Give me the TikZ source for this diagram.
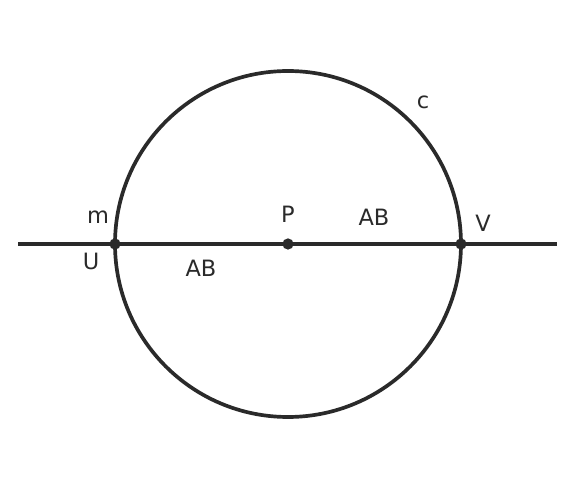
\documentclass[tikz,border=0pt]{standalone}
\usepackage{fontspec}
\setmainfont{DejaVu Sans}
\usepackage{tikz}
\definecolor{ink}{HTML}{2A2A2A}
\tikzset{
  lbl/.style={text=ink,font=\fontsize{12.8}{14}\selectfont,inner sep=0pt},
  pt/.style={circle,fill=ink,inner sep=0pt,minimum size=6.4pt}
}
\begin{document}
\begin{tikzpicture}[x=0.02cm,y=-0.02cm]
      \useasboundingbox (0,0) rectangle (576,489);
      \coordinate (m1) at (18,244);
      \coordinate (m2) at (557,244);
      \draw[ink,line width=2.1pt] (288,244) circle [radius=173];
      \draw[ink,line width=2.1pt] (m1) -- (m2);
      \node[pt] (U) at (115,244) {};
      \node[pt] (P) at (288,244) {};
      \node[pt] (V) at (461,244) {};
      \node[lbl] (mlbl) at (98,217) {m};
      \node[lbl] (Ulbl) at (91,261) {U};
      \node[lbl] (Plbl) at (288,214) {P};
      \node[lbl] (ABr) at (374,217) {AB};
      \node[lbl] (ABl) at (201,268) {AB};
      \node[lbl] (Vlbl) at (483,223) {V};
      \node[lbl] (clbl) at (423,102) {c};
   \end{tikzpicture}
\end{document}
